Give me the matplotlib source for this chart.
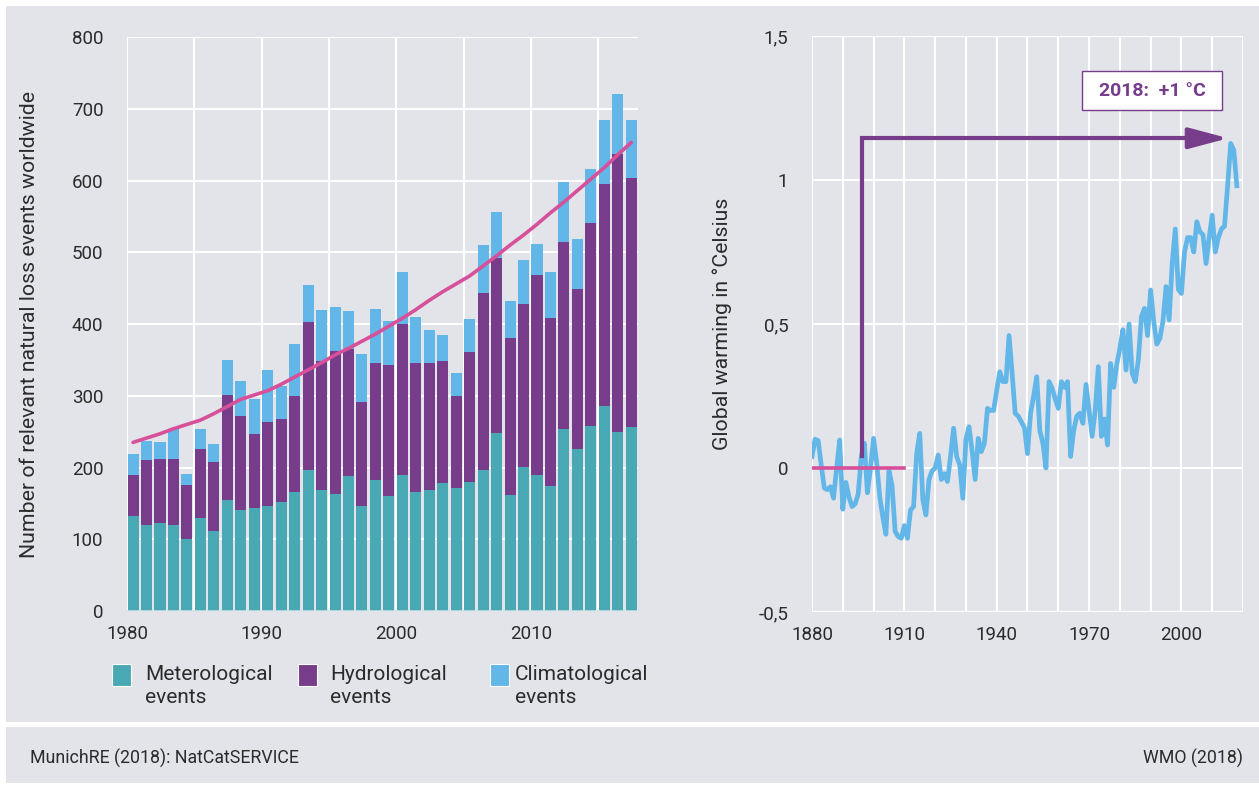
import numpy as np
import matplotlib
matplotlib.use("Agg")
from matplotlib import pyplot as plt
from matplotlib.patches import Rectangle
from matplotlib.ticker import FuncFormatter

plt.rcParams['font.family'] = ['Roboto', 'DejaVu Sans']

# left chart: loss events per year (MunichRE NatCatSERVICE)
years = np.arange(1980, 2018)
met = [133, 120, 123, 120, 101, 130, 112, 155, 141, 144, 147, 152, 166, 196, 169, 163, 188, 147, 182,
       160, 190, 166, 169, 179, 172, 180, 196, 248, 161, 201, 190, 174, 253, 226, 258, 286, 250, 256]
hyd = [57, 90, 89, 92, 74, 96, 95, 146, 131, 103, 117, 115, 134, 207, 180, 199, 177, 144, 164,
       183, 210, 180, 177, 170, 128, 181, 247, 244, 220, 227, 278, 234, 261, 223, 283, 309, 387, 347]
clim = [29, 27, 24, 41, 16, 27, 26, 49, 49, 49, 72, 46, 72, 51, 70, 62, 53, 67, 75,
        61, 72, 64, 46, 35, 32, 46, 67, 64, 51, 61, 44, 64, 84, 69, 75, 89, 83, 81]
trend = [235, 241, 247, 254, 260, 266, 275, 285, 295, 301, 307, 316, 326, 336, 346, 357, 366, 376, 386,
         397, 408, 420, 433, 445, 456, 467, 481, 495, 510, 524, 539, 555, 570, 586, 602, 618, 636, 653]
left_ticks = [1980, 1990, 2000, 2010]

# right chart: global warming (WMO)
t_years = np.arange(1880, 2019)
temp = [0.04, 0.10, 0.095, 0.01, -0.07, -0.075, -0.065, -0.105, 0.0, 0.097,
        -0.143, -0.05, -0.10, -0.134, -0.125, -0.09, 0.04, 0.086, -0.086, 0.0,
        0.103, 0.02, -0.10, -0.17, -0.23, -0.01, -0.06, -0.22, -0.238, -0.244,
        -0.20, -0.244, -0.146, -0.134, 0.05, 0.12, -0.11, -0.163, -0.04, -0.01,
        0.0, 0.045, -0.04, -0.02, -0.047, 0.04, 0.138, 0.04, 0.01, -0.105,
        0.10, 0.143, 0.06, -0.04, 0.103, 0.057, 0.086, 0.207, 0.20, 0.20,
        0.27, 0.334, 0.30, 0.30, 0.46, 0.33, 0.19, 0.18, 0.16, 0.14,
        0.05, 0.19, 0.25, 0.317, 0.13, 0.086, 0.0, 0.30, 0.277, 0.24,
        0.207, 0.30, 0.28, 0.30, 0.04, 0.13, 0.18, 0.19, 0.155, 0.29,
        0.20, 0.11, 0.20, 0.352, 0.11, 0.17, 0.08, 0.363, 0.28, 0.36,
        0.415, 0.48, 0.34, 0.50, 0.33, 0.30, 0.375, 0.525, 0.554, 0.46,
        0.618, 0.51, 0.43, 0.45, 0.51, 0.63, 0.514, 0.71, 0.83, 0.62,
        0.606, 0.75, 0.80, 0.80, 0.75, 0.855, 0.82, 0.81, 0.71, 0.80,
        0.878, 0.75, 0.80, 0.83, 0.84, 0.98, 1.127, 1.104, 0.98]
base_years = [1880, 1910]
base_vals = [0, 0]
arrow_x = [1896.3, 1896.3, 2015.2]
arrow_y = [0.04, 1.145, 1.145]
right_ticks = [1880, 1910, 1940, 1970, 2000]

TEAL = '#48a9b4'
PURPLE = '#773d8b'
LBLUE = '#62b6e8'
PINK = '#d6509a'
BG = '#e3e4ea'
TXT = '#2b2b2b'

W, H = 1259, 785
fig = plt.figure(figsize=(W / 100, H / 100), dpi=100)
fig.patch.set_facecolor('white')
fig.add_artist(Rectangle((6 / W, 1 - 722 / H), 1, (722 - 6) / H, transform=fig.transFigure,
                         facecolor=BG, edgecolor='none', zorder=-10))
fig.add_artist(Rectangle((6 / W, 1 - 783 / H), 1, (783 - 727) / H, transform=fig.transFigure,
                         facecolor=BG, edgecolor='none', zorder=-10))

# ---- left chart
ax1 = fig.add_axes([127 / W, 1 - 611 / H, (638 - 127) / W, (611 - 37) / H])
ax1.set_facecolor(BG)
xb = years + 0.45
bot2 = np.array(met)
bot3 = bot2 + np.array(hyd)
ax1.bar(xb, met, width=0.82, color=TEAL, zorder=2)
ax1.bar(xb, hyd, width=0.82, bottom=bot2, color=PURPLE, zorder=2)
ax1.bar(xb, clim, width=0.82, bottom=bot3, color=LBLUE, zorder=2)
ax1.plot(xb, trend, color=PINK, lw=2.6, zorder=3, solid_capstyle='round')
ax1.axhline(0, color='#bfe1e4', lw=1.2, zorder=2)
ax1.set_xlim(1980, 2017.95)
ax1.set_ylim(0, 800)
ax1.set_xticks(left_ticks)
ax1.set_xticks(np.arange(1980, 2016, 5), minor=True)
ax1.set_yticks(np.arange(0, 801, 100))
ax1.grid(which='both', color='white', lw=1.5)
ax1.set_axisbelow(True)
ax1.tick_params(which='both', length=0, labelsize=13.5, labelcolor=TXT)
ax1.tick_params(axis='y', pad=17)
ax1.tick_params(axis='x', pad=10)
for s in ax1.spines.values():
    s.set_visible(False)
ax1.set_ylabel('Number of relevant natural loss events worldwide', fontsize=15.3, color=TXT)
ax1.yaxis.set_label_coords(-0.172, 0.5)

# ---- right chart
ax2 = fig.add_axes([812 / W, 1 - 612 / H, (1243 - 812) / W, (612 - 36) / H])
ax2.set_facecolor(BG)
ax2.plot(t_years, temp, color=LBLUE, lw=3.4, zorder=3, solid_joinstyle='round')
ax2.plot(base_years, base_vals, color=PINK, lw=2.6, zorder=4)
ax2.plot(arrow_x[:2] + [2005], arrow_y[:2] + [1.145], color=PURPLE, lw=3, zorder=5,
         solid_joinstyle='miter')
ax2.annotate('', xy=(arrow_x[2], arrow_y[2]), xytext=(2004, arrow_y[2]),
             arrowprops=dict(arrowstyle='-|>,head_length=0.6,head_width=0.16', color=PURPLE,
                             lw=3, mutation_scale=40, shrinkA=0, shrinkB=0), zorder=5)
ax2.add_patch(Rectangle((1967.7, 1.243), 2013.3 - 1967.7, 1.378 - 1.243, facecolor='white',
                        edgecolor=PURPLE, lw=1, zorder=5))
ax2.text(1990.5, 1.31, '2018:  +1 °C', color=PURPLE, fontsize=14, fontweight='semibold',
         ha='center', va='center', zorder=6)
ax2.set_xlim(1880, 2020)
ax2.set_ylim(-0.5, 1.5)
ax2.set_xticks(right_ticks)
ax2.set_xticks(np.arange(1880, 2021, 10), minor=True)
ax2.set_yticks([-0.5, 0, 0.5, 1, 1.5])
ax2.yaxis.set_major_formatter(FuncFormatter(lambda v, p: ('%g' % v).replace('.', ',')))
ax2.grid(which='both', color='white', lw=1.5)
ax2.set_axisbelow(True)
ax2.tick_params(which='both', length=0, labelsize=13.5, labelcolor=TXT)
ax2.tick_params(axis='y', pad=17)
ax2.tick_params(axis='x', pad=10)
for s in ax2.spines.values():
    s.set_visible(False)
ax2.set_ylabel('Global warming in °Celsius', fontsize=15.3, color=TXT)
ax2.yaxis.set_label_coords(-0.186, 0.5)

# ---- legend
entries = [(TEAL, 'Meterological\nevents', 112, 145),
           (PURPLE, 'Hydrological\nevents', 298, 330),
           (LBLUE, 'Climatological\nevents', 490, 515)]
for col, lab, px, tx in entries:
    fig.add_artist(Rectangle((px / W, 1 - 686 / H), 19 / W, 22 / H, transform=fig.transFigure,
                             facecolor=col, edgecolor='white', lw=0.8))
    fig.text(tx / W, 1 - 665 / H, lab, ha='left', va='top', fontsize=15, color=TXT, linespacing=1.28)

# ---- sources
fig.text(30 / W, 1 - 758 / H, 'MunichRE (2018): NatCatSERVICE', ha='left', va='center', fontsize=12.8, color=TXT)
fig.text(1243 / W, 1 - 758 / H, 'WMO (2018)', ha='right', va='center', fontsize=12.8, color=TXT)

fig.savefig('out.png', dpi=100)
